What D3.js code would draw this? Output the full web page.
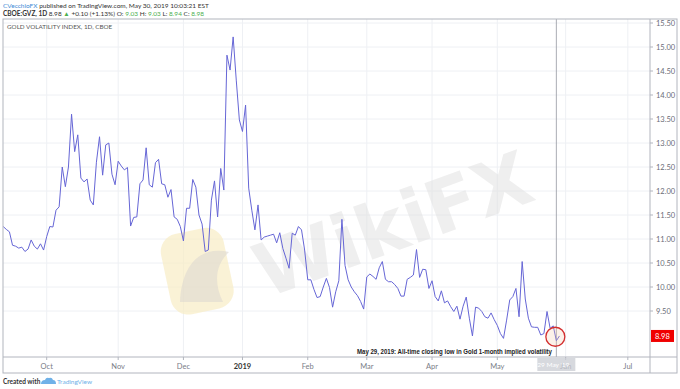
<!DOCTYPE html>
<html>
<head>
<meta charset="utf-8">
<script src="https://cdn.jsdelivr.net/npm/d3@7"></script>
<style>
  body { margin: 0; background: #fff; }
  svg { display: block; font-family: Lato, "Open Sans", sans-serif; }
</style>
</head>
<body>
<svg id="chart" width="680" height="389"></svg>
<script>

// GVZ daily closes, one per trading day starting 2018-09-11
var startDate = "2018-09-11";
var holidays = ["2018-11-22", "2018-12-05", "2018-12-25", "2019-01-01",
                "2019-01-21", "2019-02-18", "2019-04-19", "2019-05-27"];

var gvzClose = [
  // Sep
  11.26, 11.2, 11.15, 10.87, 10.85, 10.81, 10.83, 10.74, 10.79, 10.98, 10.85, 10.79, 10.9, 10.77,
  // Oct
  11.05, 11.26, 11.25, 11.6, 11.67, 12.5, 12.09, 12.5, 13.6, 12.82, 13.17, 12.27, 12.19, 12.25,
  11.81, 11.71, 12.6, 13.13, 12.33, 12.96, 13.0, 12.35, 12.13,
  // Nov
  12.62, 12.52, 12.44, 12.49, 11.27, 11.45, 11.46, 12.15, 12.23, 12.9, 12.13, 12.08, 12.59, 12.66,
  12.15, 12.13, 11.87, 12.03, 11.46, 11.41, 11.26,
  // Dec
  10.96, 11.64, 11.64, 12.24, 12.08, 11.5, 11.31, 10.74, 10.77, 11.81, 12.21, 11.46, 12.47, 12.02,
  14.83, 14.52, 15.21, 14.31, 13.48,
  // Jan
  13.24, 13.79, 12.06, 11.6, 11.19, 11.71, 10.98, 11.04, 11.06, 11.08, 11.1, 10.92, 11.13, 10.8,
  10.6, 10.39, 11.12, 11.08, 11.26, 11.19, 10.77,
  // Feb
  10.15, 10.15, 9.95, 9.78, 9.8, 10.0, 10.18, 9.99, 9.58, 9.9, 10.13, 11.41, 10.45, 10.15,
  10.0, 9.9, 9.82, 9.7, 9.54,
  // Mar
  10.21, 10.27, 10.22, 10.16, 10.4, 10.53, 10.16, 10.11, 10.11, 10.05, 9.97, 9.81, 9.81, 10.16,
  10.2, 10.25, 10.78, 10.2, 10.37, 10.36, 9.97,
  // Apr
  10.13, 9.8, 9.71, 9.92, 9.67, 9.71, 9.59, 9.49, 9.6, 9.33, 9.6, 9.79, 9.35, 8.98,
  9.58, 9.56, 9.49, 9.38, 9.35, 9.46, 9.32,
  // May
  9.2, 9.03, 8.93, 9.31, 9.73, 9.8, 9.97, 9.38, 10.53, 9.75, 9.35, 9.17, 9.16, 9.16,
  9.0, 9.03, 9.49, 9.14, 9.19, 8.88, 8.98
];

var monthStarts = ["2018-10-01", "2018-11-01", "2018-12-01", "2019-01-01", "2019-02-01",
                   "2019-03-01", "2019-04-01", "2019-05-01", "2019-06-01", "2019-07-01"];
var monthLabels = ["Oct", "Nov", "Dec", "2019", "Feb", "Mar", "Apr", "May", "Jun", "Jul"];

var priceTicks = [9.5, 10, 10.5, 11, 11.5, 12, 12.5, 13, 13.5, 14, 14.5, 15, 15.5];
var lastPrice = 8.98;
var lowIndex = 178; // May 29, 2019
var lowLabel = "29 May '19";
var noteText = "May 29, 2019: All-time closing low in Gold 1-month implied volatility";

/////
// layout
/////
var svg = d3.select("#chart"),
    frame = {left: 3, right: 677, top: 19, bottom: 373},
    plot = {left: 3, right: 650, top: 19, bottom: 357};

// build a trading-day calendar (weekdays minus holidays), running past the data
var parse = d3.timeParse("%Y-%m-%d"),
    fmt = d3.timeFormat("%Y-%m-%d"),
    days = [],
    d = parse(startDate);
while (d < parse("2019-07-20")) {
  var wd = d.getDay();
  if (wd !== 0 && wd !== 6 && holidays.indexOf(fmt(d)) < 0) days.push(new Date(d));
  d = d3.timeDay.offset(d, 1);
}

function firstIndexOnOrAfter(s) {
  var t = parse(s);
  for (var i = 0; i < days.length; i++) { if (days[i] >= t) return i; }
  return days.length - 1;
}

var x = d3.scaleLinear().domain([14, 159]).range([46.7, 497.3]);
var y = d3.scaleLinear().domain([10, 15]).range([287, 47]);

var tickIdx = monthStarts.map(firstIndexOnOrAfter);

// clip for plot area
svg.append("defs").append("clipPath").attr("id", "clip")
  .append("rect")
    .attr("x", plot.left).attr("y", plot.top)
    .attr("width", plot.right - plot.left).attr("height", plot.bottom - plot.top);

// gridlines
var grid = svg.append("g");
grid.selectAll(".hg")
    .data(priceTicks)
  .enter().append("line")
    .attr("x1", plot.left).attr("x2", plot.right)
    .attr("y1", function(v) { return y(v); }).attr("y2", function(v) { return y(v); })
    .attr("stroke", "#eef0f4").attr("stroke-width", 1);
grid.selectAll(".vg")
    .data(tickIdx)
  .enter().append("line")
    .attr("x1", function(i) { return x(i); }).attr("x2", function(i) { return x(i); })
    .attr("y1", plot.top).attr("y2", plot.bottom)
    .attr("stroke", "#eef0f4").attr("stroke-width", 1);

// watermark (faint logo + text)
var wm = svg.append("g").attr("clip-path", "url(#clip)");
wm.append("rect")
    .attr("x", 165).attr("y", 230).attr("width", 64).attr("height", 82).attr("rx", 18)
    .attr("transform", "rotate(-12,198,270)")
    .attr("fill", "#f8ecc4").attr("opacity", 0.7);
wm.append("path")
    .attr("d", "M180,302 C182,262 202,246 229,252 C216,264 213,282 223,302 Z")
    .attr("fill", "#ddd9d0").attr("opacity", 0.6);
wm.append("text")
    .attr("x", 395).attr("y", 250)
    .attr("text-anchor", "middle")
    .attr("font-family", "'DejaVu Sans', sans-serif")
    .attr("font-weight", "bold")
    .attr("font-size", 74)
    .attr("fill", "#e2e2e2").attr("opacity", 0.55)
    .attr("transform", "rotate(-20,395,230)")
    .text("WikiFX");

// crosshair at the low
svg.append("line")
    .attr("x1", x(lowIndex)).attr("x2", x(lowIndex))
    .attr("y1", plot.top).attr("y2", plot.bottom)
    .attr("stroke", "#9598a1").attr("stroke-width", 0.8);

// the series
var line = d3.line()
    .x(function(v, i) { return x(i); })
    .y(function(v) { return y(v); });

svg.append("path")
    .datum(gvzClose)
    .attr("clip-path", "url(#clip)")
    .attr("d", line)
    .attr("fill", "none")
    .attr("stroke", "#6666d6")
    .attr("stroke-width", 1)
    .attr("stroke-linejoin", "round");

// circle at the low
svg.append("circle")
    .attr("cx", x(lowIndex) - 1).attr("cy", y(gvzClose[lowIndex]) - 4)
    .attr("r", 9.5)
    .attr("fill", "#f4c7a8").attr("fill-opacity", 0.25)
    .attr("stroke", "#d32f2f").attr("stroke-width", 1.3);

// annotation
svg.append("text")
    .attr("x", 357).attr("y", 354)
    .attr("textLength", 195)
    .attr("lengthAdjust", "spacingAndGlyphs")
    .attr("font-family", "'Liberation Sans', Arial, sans-serif")
    .attr("font-weight", "bold")
    .attr("font-size", 6.8)
    .attr("fill", "#222")
    .text(noteText);

// frame + axis dividers
svg.append("rect")
    .attr("x", frame.left).attr("y", frame.top)
    .attr("width", frame.right - frame.left).attr("height", frame.bottom - frame.top)
    .attr("fill", "none").attr("stroke", "#b2b5be").attr("stroke-width", 1);
svg.append("line")
    .attr("x1", plot.right).attr("x2", plot.right)
    .attr("y1", frame.top).attr("y2", frame.bottom)
    .attr("stroke", "#b2b5be");
svg.append("line")
    .attr("x1", frame.left).attr("x2", frame.right)
    .attr("y1", plot.bottom).attr("y2", plot.bottom)
    .attr("stroke", "#b2b5be");

// price axis
var yAxis = svg.append("g").attr("font-size", 7.5);
var yt = yAxis.selectAll("g")
    .data(priceTicks)
  .enter().append("g")
    .attr("transform", function(v) { return "translate(" + plot.right + "," + y(v) + ")"; });
yt.append("line").attr("x1", 0).attr("x2", 3).attr("stroke", "#b2b5be");
yt.append("text")
    .attr("x", 6).attr("dy", "0.35em")
    .attr("fill", "#6a6d78")
    .text(function(v) { return d3.format(".2f")(v); });

// last price tag
svg.append("rect")
    .attr("x", plot.right + 1).attr("y", y(lastPrice) - 6)
    .attr("width", 23).attr("height", 12)
    .attr("fill", "#f00000");
svg.append("text")
    .attr("x", plot.right + 5).attr("y", y(lastPrice)).attr("dy", "0.35em")
    .attr("font-size", 7.5).attr("fill", "#fff")
    .text(d3.format(".2f")(lastPrice));

// time axis
var xt = svg.append("g").attr("font-size", 7.5)
  .selectAll("g")
    .data(tickIdx)
  .enter().append("g")
    .attr("transform", function(i) { return "translate(" + x(i) + "," + plot.bottom + ")"; });
xt.append("line").attr("y1", 0).attr("y2", 3).attr("stroke", "#b2b5be");
xt.append("text")
    .attr("y", 12)
    .attr("text-anchor", "middle")
    .attr("fill", function(i, k) { return monthLabels[k] === "2019" ? "#333" : "#7a7d87"; })
    .attr("font-weight", function(i, k) { return monthLabels[k] === "2019" ? "bold" : "normal"; })
    .text(function(i, k) { return monthLabels[k]; });

// date tag of the crosshair (sits over the Jun label, as in the original)
svg.append("rect")
    .attr("x", x(lowIndex) - 19).attr("y", plot.bottom + 1)
    .attr("width", 38).attr("height", 13)
    .attr("fill", "#c9ccd3").attr("opacity", 0.75);
svg.append("text")
    .attr("x", x(lowIndex) - 3).attr("y", plot.bottom + 10)
    .attr("text-anchor", "middle")
    .attr("font-size", 6.5).attr("fill", "#fff")
    .text(lowLabel);

// chart title inside the pane
svg.append("text")
    .attr("x", 7).attr("y", 29)
    .attr("font-size", 6.3).attr("fill", "#555")
    .text("GOLD VOLATILITY INDEX, 1D, CBOE");

// header
var h1 = svg.append("text").attr("x", 3).attr("y", 7.5).attr("font-size", 6.5).attr("fill", "#333");
h1.append("tspan").attr("fill", "#3d8ad6").text("CVecchioFX");
h1.append("tspan").text(" published on TradingView.com, May 30, 2019 10:03:21 EST");

var green = "#4caf50";
var h2 = svg.append("text").attr("x", 3).attr("y", 16).attr("font-size", 6.5).attr("fill", "#333");
h2.append("tspan").attr("font-weight", "bold").text("CBOE:GVZ, 1D");
h2.append("tspan").text(" 8.98 ");
h2.append("tspan").attr("fill", green).text("\u25B2");
h2.append("tspan").text(" +0.10 (+1.13%) O: ");
h2.append("tspan").attr("fill", green).text("9.03");
h2.append("tspan").text(" H: ");
h2.append("tspan").attr("fill", green).text("9.03");
h2.append("tspan").text(" L: ");
h2.append("tspan").attr("fill", green).text("8.94");
h2.append("tspan").text(" C: ");
h2.append("tspan").attr("fill", green).text("8.98");

// footer
var foot = svg.append("g");
foot.append("text")
    .attr("x", 3).attr("y", 384)
    .attr("font-size", 6.5).attr("font-weight", "bold").attr("fill", "#333")
    .text("Created with");
foot.append("path")
    .attr("d", "M41,384 q0,-4 4,-4 q1,-3 4,-2 q3,-1 4,2 q3,0 3,4 Z")
    .attr("fill", "#6fb1e8");
foot.append("text")
    .attr("x", 57).attr("y", 384)
    .attr("font-size", 6.5).attr("fill", "#6fb1e8")
    .text("TradingView");

</script>
</body>
</html>
